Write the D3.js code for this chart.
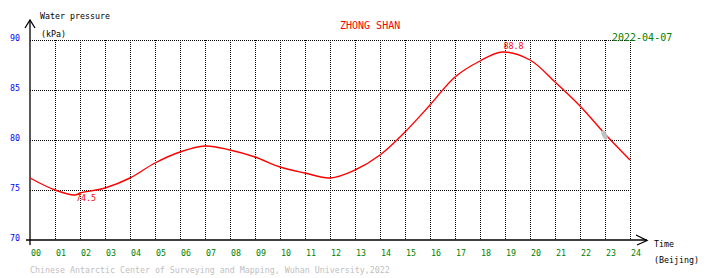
<!DOCTYPE html>
<html>
<head>
<meta charset="utf-8">
<script src="https://cdn.jsdelivr.net/npm/d3@7"></script>
<style>
  body { margin: 0; background: #fff; }
  text { font-family: "DejaVu Sans Mono", monospace; }
</style>
</head>
<body>
<div id="chart"></div>
<script>
// hourly water pressure readings (kPa)
const hours = [0, 1, 1.8, 2, 3, 4, 5, 6, 7, 8, 9, 10, 11, 12, 13, 14, 15, 16, 17, 18, 18.9, 20, 21, 22, 23, 24];
const pressure = [76.2, 75.0, 74.5, 74.7, 75.2, 76.2, 77.7, 78.8, 79.4, 79.0, 78.3, 77.3, 76.7, 76.2, 77.0, 78.5, 80.8, 83.5, 86.3, 87.9, 88.8, 88.0, 85.8, 83.4, 80.6, 78.0];
const yTicks = [70, 75, 80, 85, 90];
const xTicks = d3.range(0, 25);
const extremes = [{h: 1.8, v: 74.5, label: "74.5"}, {h: 18.9, v: 88.8, label: "88.8"}];

const ctx = {w: 710, h: 278, left: 30, right: 630, top: 40, bottom: 240, font: "8.3px"};

const svg = d3.select("#chart").append("svg")
    .attr("width", ctx.w)
    .attr("height", ctx.h);

const x = d3.scaleLinear().domain([0, 24]).range([ctx.left, ctx.right]);
const y = d3.scaleLinear().domain([70, 90]).range([ctx.bottom, ctx.top]);

// dotted grid
let gridG = svg.append("g")
    .attr("stroke", "#000")
    .attr("stroke-width", 1)
    .attr("stroke-dasharray", "1,1")
    .attr("shape-rendering", "crispEdges");
gridG.selectAll(".hgrid")
    .data(yTicks.filter(d => d > 70))
    .enter().append("line")
    .attr("x1", x(0)).attr("x2", x(24))
    .attr("y1", d => y(d) + 0.5).attr("y2", d => y(d) + 0.5);
gridG.selectAll(".vgrid")
    .data(xTicks.filter(d => d > 0))
    .enter().append("line")
    .attr("x1", d => x(d) + 0.5).attr("x2", d => x(d) + 0.5)
    .attr("y1", y(90)).attr("y2", y(70));

// axes
let axisG = svg.append("g").attr("stroke", "#000").attr("fill", "none").attr("stroke-width", 1.3);
axisG.append("line").attr("x1", x(0)).attr("x2", x(0)).attr("y1", 20).attr("y2", 245);
axisG.append("path").attr("d", "M25,28L30,20L35,28");
axisG.append("line").attr("x1", 26).attr("x2", 647).attr("y1", y(70)).attr("y2", y(70));
axisG.append("path").attr("d", "M636,235L647,240.5L637,245");

// y tick labels
svg.selectAll(".ylab")
    .data(yTicks)
    .enter().append("text")
    .attr("x", 10)
    .attr("y", d => y(d) + 1)
    .attr("fill", "#0000ff")
    .style("font-size", ctx.font)
    .text(d => d);

// x tick labels
svg.selectAll(".xlab")
    .data(xTicks)
    .enter().append("text")
    .attr("x", d => x(d) + 1)
    .attr("y", 256)
    .attr("fill", "#008000")
    .style("font-size", ctx.font)
    .text(d => d3.format("02d")(d));

// axis titles
svg.append("text").attr("x", 40).attr("y", 19).style("font-size", ctx.font).text("Water pressure");
svg.append("text").attr("x", 41).attr("y", 37).style("font-size", ctx.font).text("(kPa)");
svg.append("text").attr("x", 654).attr("y", 247).style("font-size", ctx.font).text("Time");
svg.append("text").attr("x", 654).attr("y", 263).style("font-size", ctx.font).text("(Beijing)");

// titles
svg.append("text").attr("x", 340).attr("y", 29).attr("fill", "#ff0000")
    .style("font-size", "10px").text("ZHONG SHAN");
svg.append("text").attr("x", 612).attr("y", 41).attr("fill", "#008000")
    .style("font-size", "10px").text("2022-04-07");
svg.append("text").attr("x", 30).attr("y", 273).attr("fill", "#c0c0c0")
    .style("font-size", ctx.font)
    .text("Chinese Antarctic Center of Surveying and Mapping, Wuhan University,2022");

// pressure curve
const series = hours.map((h, i) => [h, pressure[i]]);
const line = d3.line()
    .curve(d3.curveCatmullRom)
    .x(d => x(d[0]))
    .y(d => y(d[1]));
svg.append("path")
    .datum(series)
    .attr("fill", "none")
    .attr("stroke", "#ff0000")
    .attr("stroke-width", 1.4)
    .attr("d", line);

// current time marker
svg.append("ellipse")
    .attr("cx", x(22.98)).attr("cy", y(80.5))
    .attr("rx", 2.5).attr("ry", 5)
    .attr("transform", "rotate(-25," + x(22.98) + "," + y(80.5) + ")")
    .attr("fill", "#c0c0c0");

// min / max labels
svg.selectAll(".ext")
    .data(extremes)
    .enter().append("text")
    .attr("x", d => x(d.h) + 1)
    .attr("y", d => d.v > 80 ? y(d.v) - 3 : y(d.v) + 6)
    .attr("fill", "#ff0000")
    .style("font-size", ctx.font)
    .text(d => d.label);
</script>
</body>
</html>
